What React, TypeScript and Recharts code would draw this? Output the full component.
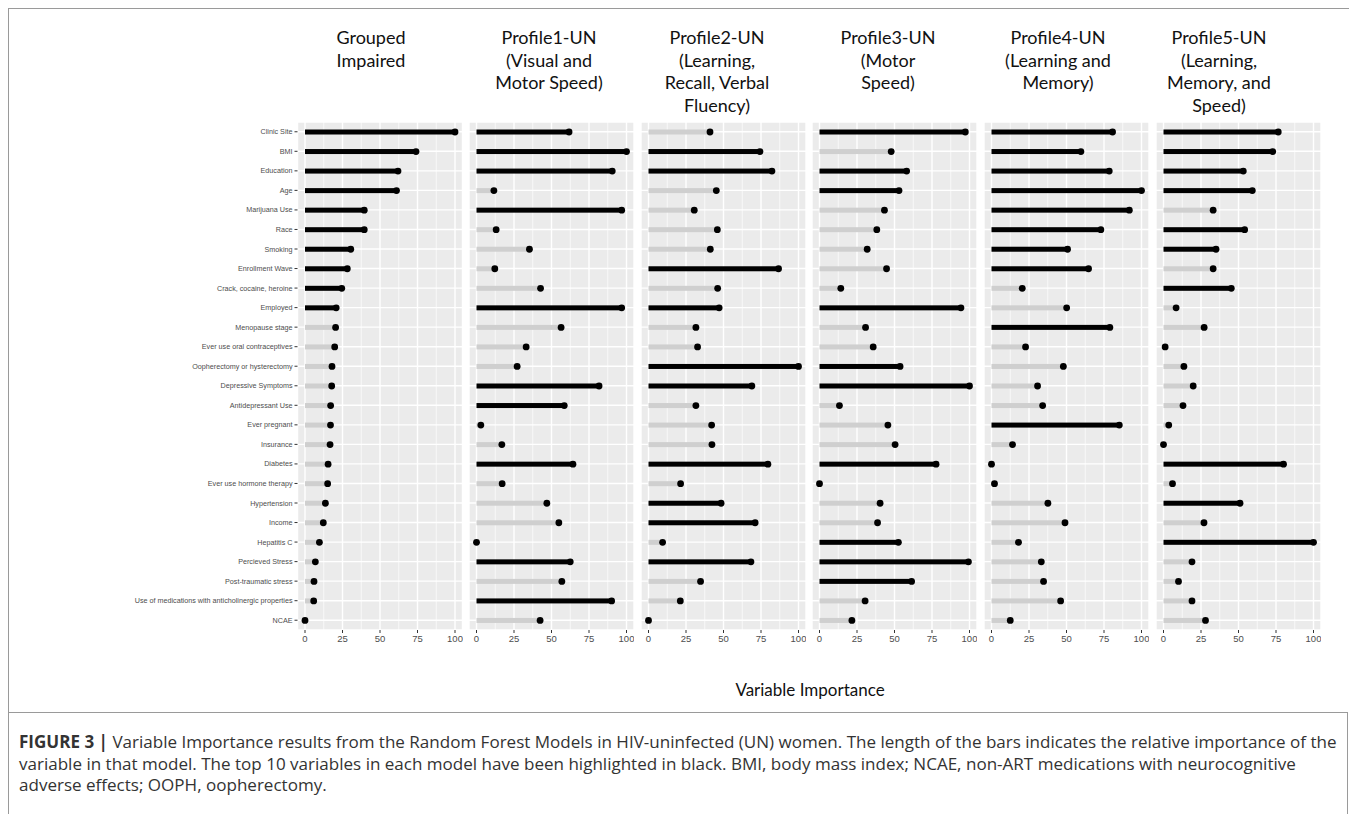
import { Bar, BarChart, CartesianGrid, XAxis, YAxis } from "recharts";

const VARIABLES = [
  "Clinic Site",
  "BMI",
  "Education",
  "Age",
  "Marijuana Use",
  "Race",
  "Smoking",
  "Enrollment Wave",
  "Crack, cocaine, heroine",
  "Employed",
  "Menopause stage",
  "Ever use oral contraceptives",
  "Oopherectomy or hysterectomy",
  "Depressive Symptoms",
  "Antidepressant Use",
  "Ever pregnant",
  "Insurance",
  "Diabetes",
  "Ever use hormone therapy",
  "Hypertension",
  "Income",
  "Hepatitis C",
  "Percieved Stress",
  "Post-traumatic stress",
  "Use of medications with anticholinergic properties",
  "NCAE",
];

const GROUPED = [100, 74, 62, 61, 39.5, 39.5, 30.5, 28.2, 24.5, 20.8, 20.4, 19.8, 18, 17.8, 17.1, 17, 16.7, 15.4, 15.1, 13.6, 12.2, 9.6, 6.9, 6, 5.8, 0];
const PROFILE1 = [61.7, 100, 90.5, 11.6, 96.8, 13.1, 35.3, 12.2, 42.7, 96.8, 56.4, 33.1, 27.1, 81.7, 58.5, 2.9, 16.9, 64.3, 17.1, 46.9, 54.9, 0, 62.5, 56.9, 90.1, 42.4];
const PROFILE2 = [41, 74.3, 82.3, 45.2, 30.5, 45.9, 41.2, 86.7, 46.1, 47.1, 31.6, 32.7, 100, 68.9, 31.6, 42.1, 42.3, 79.6, 21.4, 48.4, 71.1, 9.4, 68.3, 34.7, 21.2, 0];
const PROFILE3 = [97.2, 47.8, 58.1, 53, 43.3, 38.2, 31.8, 44.7, 14.2, 94.3, 30.7, 35.8, 53.7, 100, 13.3, 45.6, 50.4, 77.7, 0, 40.4, 38.7, 52.6, 99.3, 61.4, 30.4, 21.6];
const PROFILE4 = [80.7, 59.6, 78.5, 100, 91.9, 72.9, 50.7, 64.7, 20.5, 50.1, 78.9, 22.7, 47.9, 30.7, 34.1, 85.2, 14, 0, 2, 37.6, 49, 18, 33.2, 34.7, 46.1, 12.5];
const PROFILE5 = [76.5, 72.8, 53.2, 59.2, 33.1, 54.1, 35, 33.1, 45.2, 8.4, 27.1, 1.1, 13.6, 19.8, 13, 3.5, 0, 80, 6, 51, 27, 100, 19, 10, 19, 28];

const TITLES = [
  ["Grouped", "Impaired"],
  ["Profile1-UN", "(Visual and", "Motor Speed)"],
  ["Profile2-UN", "(Learning,", "Recall, Verbal", "Fluency)"],
  ["Profile3-UN", "(Motor", "Speed)"],
  ["Profile4-UN", "(Learning and", "Memory)"],
  ["Profile5-UN", "(Learning,", "Memory, and", "Speed)"],
];
const TITLE_CENTERS = [371, 549, 717, 888, 1058, 1219];
const SERIES = [GROUPED, PROFILE1, PROFILE2, PROFILE3, PROFILE4, PROFILE5];

const X_TICKS = [0, 25, 50, 75, 100];
const MINOR = [12.5, 37.5, 62.5, 87.5];

function buildRows(values: number[]) {
  const sorted = [...values].sort((a, b) => b - a);
  const cutoff = sorted[9];
  return VARIABLES.map((name, i) => ({ name, value: values[i], top: values[i] >= cutoff }));
}

function Lollipop(props: any) {
  const { x, y, width, height, payload } = props;
  const cy = y + height / 2;
  const color = payload.top ? "#000000" : "#CFCFCF";
  return (
    <g>
      <rect x={x} y={cy - 2.5} width={Math.max(width, 0)} height={5} fill={color} />
      <circle cx={x + width} cy={cy} r={3.4} fill="#000000" />
    </g>
  );
}

function NameTick(props: any) {
  const { x, y, payload } = props;
  return (
    <text
      x={x}
      y={y}
      dy="0.35em"
      textAnchor="end"
      fontSize={7.2}
      fill="#4D4D4D"
      fontFamily="Liberation Sans, Arial, sans-serif"
    >
      {payload.value}
    </text>
  );
}

function Panel({ values, first }: { values: number[]; first: boolean }) {
  const data = buildRows(values);
  const axisW = first ? 289.5 : 0;
  return (
    <BarChart
      width={165 + axisW}
      height={528}
      data={data}
      layout="vertical"
      margin={{ top: 0, right: 0, bottom: 0, left: 0 }}
      barCategoryGap={0}
    >
      <CartesianGrid fill="#EBEBEB" stroke="#FFFFFF" strokeWidth={0.7} horizontal={false} verticalValues={MINOR} />
      <CartesianGrid stroke="#FFFFFF" strokeWidth={1.4} />
      <XAxis
        type="number"
        dataKey="value"
        domain={[-5, 105]}
        ticks={X_TICKS}
        axisLine={false}
        tickSize={3}
        tickLine={{ stroke: "#333333" }}
        tick={{ fill: "#4D4D4D", fontSize: 9.5, fontFamily: "Liberation Sans, Arial, sans-serif" }}
        height={20}
        interval={0}
      />
      <YAxis
        type="category"
        dataKey="name"
        width={axisW}
        hide={!first}
        axisLine={false}
        tickSize={3}
        tickLine={{ stroke: "#333333" }}
        tick={NameTick}
        interval={0}
      />
      <Bar dataKey="value" shape={Lollipop} isAnimationActive={false} />
    </BarChart>
  );
}

export default function App() {
  return (
    <div style={{ position: "relative", width: 1341, height: 806, fontFamily: "Lato, sans-serif" }}>
      <div style={{ position: "absolute", left: 0, top: 0, width: 1340, height: 704, border: "1px solid #9a9a9a", borderBottom: "none" }} />
      {TITLES.map((lines, i) => (
        <div
          key={i}
          style={{
            position: "absolute",
            left: TITLE_CENTERS[i] - 8 - 100,
            width: 200,
            top: 18,
            textAlign: "center",
            fontSize: 18,
            lineHeight: "22.6px",
            color: "#111",
          }}
        >
          {lines.map((l) => (
            <div key={l}>{l}</div>
          ))}
        </div>
      ))}
      {SERIES.map((values, i) => (
        <div key={i} style={{ position: "absolute", top: 114, left: i === 0 ? 0 : 289.5 + i * 171.6 }}>
          <Panel values={values} first={i === 0} />
        </div>
      ))}
      <div style={{ position: "absolute", left: 0, width: 1604, top: 671, fontSize: 17, textAlign: "center", color: "#111" }}>
        Variable Importance
      </div>
      <div
        style={{
          position: "absolute",
          left: 0,
          top: 704,
          width: 1340,
          height: 103,
          border: "1px solid #9a9a9a",
          boxSizing: "border-box",
          padding: "18px 10px 0 10px",
          fontFamily: "'Open Sans', sans-serif",
          fontSize: 17.05,
          lineHeight: "21.7px",
          color: "#333",
        }}
      >
        <div style={{ whiteSpace: "nowrap" }}>
          <b>FIGURE 3 |</b> Variable Importance results from the Random Forest Models in HIV-uninfected (UN) women. The length of the bars indicates the relative importance of the
        </div>
        <div style={{ whiteSpace: "nowrap" }}>
          variable in that model. The top 10 variables in each model have been highlighted in black. BMI, body mass index; NCAE, non-ART medications with neurocognitive
        </div>
        <div>adverse effects; OOPH, oopherectomy.</div>
      </div>
    </div>
  );
}
